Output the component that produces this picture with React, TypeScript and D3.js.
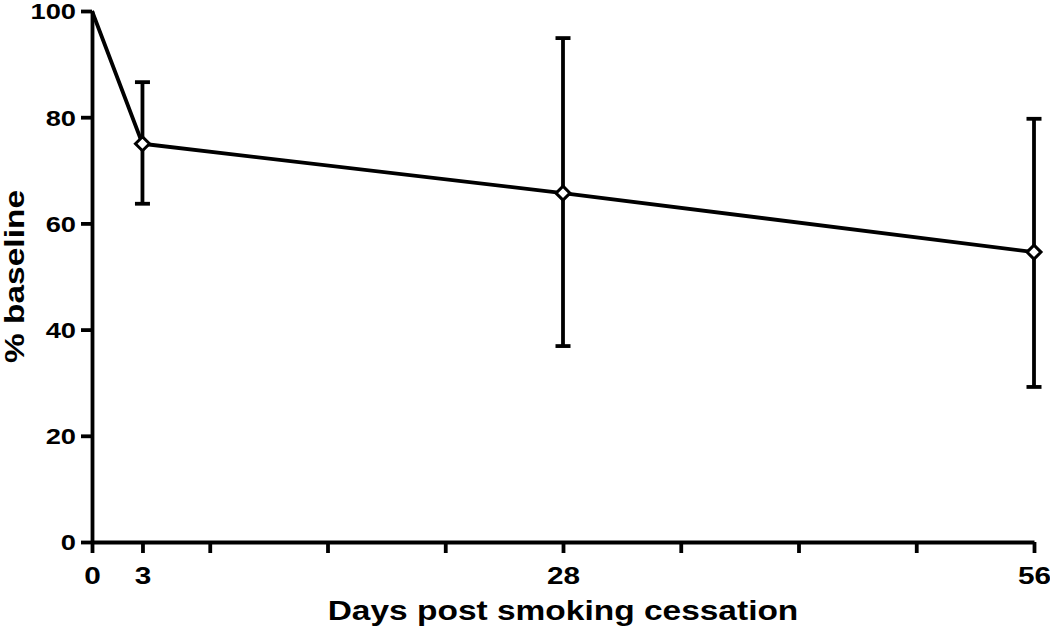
import React, { useEffect, useRef } from "react";
import * as d3 from "d3";

// values
const days = [0, 3, 28, 56];
const meanPct = [100, 75.0, 65.7, 54.6];
const upperPct = [null, 86.6, 94.9, 79.7];
const lowerPct = [null, 63.7, 36.9, 29.2];

const xTickValues = [0, 3, 7, 14, 21, 28, 35, 42, 49, 56];
const xTickLabels = ["0", "3", "", "", "", "28", "", "", "", "56"];
const yTickValues = [0, 20, 40, 60, 80, 100];

const FONT = "'Liberation Sans', Arial, Helvetica, sans-serif";
const SX = 1.24; // the source text is drawn wider than Arial
const LW = 3.8;

export default function App() {
  const ref = useRef<SVGSVGElement>(null);

  useEffect(() => {
    const svg = d3.select(ref.current);
    svg.selectAll("*").remove();

    const left = 92,
      right = 1034,
      top = 11,
      bottom = 542;

    const x = d3.scaleLinear().domain([0, 56]).range([left, right]);
    const y = d3.scaleLinear().domain([0, 100]).range([bottom, top]);

    const pts = days.map((d, i) => ({
      day: d,
      mean: meanPct[i],
      hi: upperPct[i],
      lo: lowerPct[i],
    }));

    // y axis
    const yAxis = svg
      .append("g")
      .attr("transform", `translate(${left},0)`)
      .call(d3.axisLeft(y).tickValues(yTickValues).tickSize(11).tickSizeOuter(0));
    yAxis.select(".domain").attr("stroke", "#000").attr("stroke-width", LW);
    yAxis.selectAll(".tick line").attr("stroke", "#000").attr("stroke-width", LW);
    yAxis
      .selectAll(".tick text")
      .attr("x", null)
      .attr("dy", "0.36em")
      .attr("transform", `translate(-16,0) scale(${SX},1)`)
      .style("font-family", FONT)
      .style("font-weight", "bold")
      .style("font-size", "22px")
      .attr("fill", "#000");

    // x axis
    const xAxis = svg
      .append("g")
      .attr("transform", `translate(0,${bottom})`)
      .call(
        d3
          .axisBottom(x)
          .tickValues(xTickValues)
          .tickFormat((d, i) => xTickLabels[i])
          .tickSize(11)
          .tickSizeOuter(0)
      );
    xAxis.select(".domain").attr("stroke", "#000").attr("stroke-width", LW);
    xAxis.selectAll(".tick line").attr("stroke", "#000").attr("stroke-width", LW);
    xAxis
      .selectAll(".tick text")
      .attr("y", null)
      .attr("dy", null)
      .attr("transform", `translate(0,42) scale(${SX},1)`)
      .style("font-family", FONT)
      .style("font-weight", "bold")
      .style("font-size", "24px")
      .attr("fill", "#000");

    // axis titles
    svg
      .append("text")
      .attr("transform", `translate(${(left + right) / 2},620) scale(${SX},1)`)
      .attr("text-anchor", "middle")
      .style("font-family", FONT)
      .style("font-weight", "bold")
      .style("font-size", "27px")
      .text("Days post smoking cessation");

    svg
      .append("text")
      .attr("transform", `translate(24,${(top + bottom) / 2}) rotate(-90) scale(${SX},1)`)
      .attr("text-anchor", "middle")
      .style("font-family", FONT)
      .style("font-weight", "bold")
      .style("font-size", "27px")
      .text("% baseline");

    // mean line
    const line = d3
      .line<any>()
      .x((d) => x(d.day))
      .y((d) => y(d.mean));

    svg
      .append("path")
      .datum(pts)
      .attr("d", line)
      .attr("fill", "none")
      .attr("stroke", "#000")
      .attr("stroke-width", LW)
      .attr("stroke-linejoin", "round");

    // error bars
    const bars = pts.filter((d) => d.hi != null);
    const cap = 7.5;
    const eb = svg.append("g").attr("stroke", "#000").attr("stroke-width", LW);
    eb.selectAll(".whisker")
      .data(bars)
      .join("line")
      .attr("class", "whisker")
      .attr("x1", (d) => x(d.day))
      .attr("x2", (d) => x(d.day))
      .attr("y1", (d) => y(d.hi as number))
      .attr("y2", (d) => y(d.lo as number));
    eb.selectAll(".capHi")
      .data(bars)
      .join("line")
      .attr("class", "capHi")
      .attr("x1", (d) => x(d.day) - cap)
      .attr("x2", (d) => x(d.day) + cap)
      .attr("y1", (d) => y(d.hi as number))
      .attr("y2", (d) => y(d.hi as number));
    eb.selectAll(".capLo")
      .data(bars)
      .join("line")
      .attr("class", "capLo")
      .attr("x1", (d) => x(d.day) - cap)
      .attr("x2", (d) => x(d.day) + cap)
      .attr("y1", (d) => y(d.lo as number))
      .attr("y2", (d) => y(d.lo as number));

    // open diamond markers (not at day 0)
    const diamond = d3.symbol().type(d3.symbolDiamond2).size(125);
    svg
      .selectAll(".marker")
      .data(pts.filter((d) => d.day > 0))
      .join("path")
      .attr("class", "marker")
      .attr("d", diamond)
      .attr("transform", (d) => `translate(${x(d.day)},${y(d.mean)})`)
      .attr("fill", "#fff")
      .attr("stroke", "#000")
      .attr("stroke-width", 3);
  }, []);

  return (
    <div style={{ position: "absolute", left: 0, top: 0 }}>
      <svg ref={ref} width={1050} height={630} style={{ display: "block", background: "#fff" }} />
    </div>
  );
}
